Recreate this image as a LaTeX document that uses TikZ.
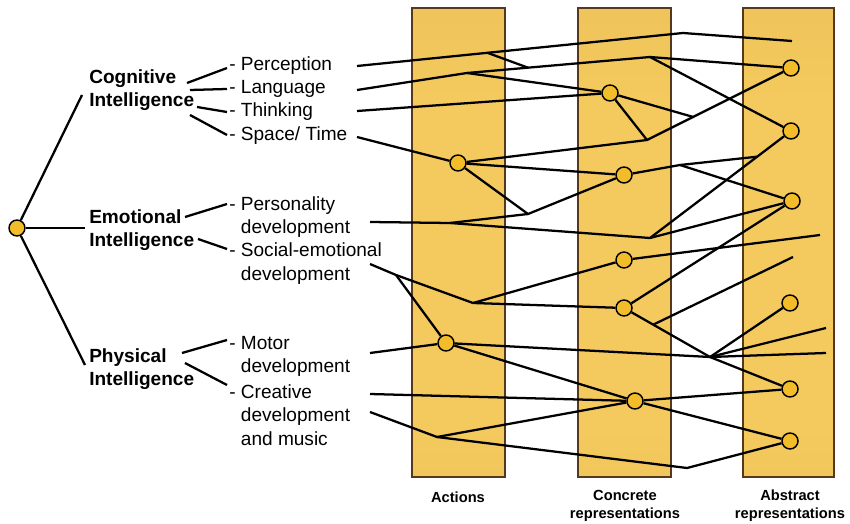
\documentclass[tikz,border=0pt]{standalone}
\usepackage{fontspec}
\setmainfont{Liberation Sans}
\usetikzlibrary{calc}
\definecolor{colgold}{HTML}{F4CA5E}
\definecolor{coldark}{HTML}{C9A146}
\definecolor{colbot}{HTML}{E2B44E}
\definecolor{dotfill}{HTML}{F3BD2A}
\pgfdeclareverticalshading{colshade}{100bp}{color(0bp)=(colbot); color(30bp)=(colgold); color(65bp)=(colgold); color(88bp)=(colgold!70!coldark); color(100bp)=(coldark)}
\tikzset{mcol/.style={draw=black!55!brown,line width=0.8pt,shading=colshade}}
\tikzset{mdot/.style={draw,circle,fill=dotfill,line width=1.1pt,minimum size=12pt,inner sep=0pt}}
\tikzset{mlink/.style={line width=1.7pt}}
\tikzset{mhead/.style={anchor=west,align=left,inner sep=0pt,font=\bfseries\fontsize{14.3}{17.3}\selectfont}}
\tikzset{mitem/.style={anchor=west,align=left,inner sep=0pt,font=\fontsize{14.3}{17.5}\selectfont}}
\tikzset{mcap/.style={align=center,inner sep=0pt,font=\bfseries\fontsize{11}{13.5}\selectfont}}

\begin{document}
\begin{tikzpicture}[x=0.75pt,y=-0.75pt]
\useasboundingbox (0,0) rectangle (850,524);

% columns
\path[mcol] (412,8) rectangle (505,477);
\path[mcol] (578,8) rectangle (671,477);
\path[mcol] (743,8) rectangle (834,477);
\node[mcap] (lact) at (458,497) {Actions};
\node[mcap] (lcon) at (625,506) {Concrete\\representations};
\node[mcap] (labs) at (790,506) {Abstract\\representations};

% left tree
\node[mdot] (root) at (17,228) {};
\node[mhead] (cog) at (89,90) {Cognitive\\Intelligence};
\node[mhead] (emo) at (89,230) {Emotional\\Intelligence};
\node[mhead] (phy) at (89,369) {Physical\\Intelligence};

\node[mitem] (perc) at (229,66) {- Perception};
\node[mitem] (lang) at (229,89) {- Language};
\node[mitem] (think) at (229,112) {- Thinking};
\node[mitem] (space) at (229,136) {- Space/ Time};
\node[mitem] (pers) at (229,217) {- Personality\\\phantom{- }development};
\node[mitem] (soc) at (229,263.5) {- Social-emotional\\\phantom{- }development};
\node[mitem] (motor) at (229,356.5) {- Motor\\\phantom{- }development};
\node[mitem] (creat) at (229,415) {- Creative\\\phantom{- }development\\\phantom{- }and music};

\coordinate (tc) at (82,95);
\coordinate (te) at (85,228);
\coordinate (tp) at (85,365);
\draw[mlink] (root) -- (tc);
\draw[mlink] (root) -- (te);
\draw[mlink] (root) -- (tp);

\coordinate (c1) at (187,83);  \coordinate (p1) at (227,68);
\coordinate (c2) at (190,90);  \coordinate (p2) at (227,89);
\coordinate (c3) at (197,107); \coordinate (p3) at (227,112);
\coordinate (c4) at (190,115); \coordinate (p4) at (227,135);
\coordinate (c5) at (185,217); \coordinate (p5) at (227,204);
\coordinate (c6) at (198,239); \coordinate (p6) at (227,249);
\coordinate (c7) at (182,353); \coordinate (p7) at (227,340);
\coordinate (c8) at (185,363); \coordinate (p8) at (227,385);
\foreach \i in {1,...,8}
  \draw[mlink] (c\i) -- (p\i);

% column nodes
\node[mdot] (act1) at (458,163) {};
\node[mdot] (act2) at (446,343) {};
\node[mdot] (con1) at (610,93) {};
\node[mdot] (con2) at (624,175) {};
\node[mdot] (con3) at (624,260) {};
\node[mdot] (con4) at (624,308) {};
\node[mdot] (con5) at (635,401) {};
\node[mdot] (abs1) at (791,68) {};
\node[mdot] (abs2) at (791,131) {};
\node[mdot] (abs3) at (792,201) {};
\node[mdot] (abs4) at (790,303) {};
\node[mdot] (abs5) at (790,389) {};
\node[mdot] (abs6) at (790,441) {};

% starts and junctions
\coordinate (s1) at (357,66);
\coordinate (s2) at (357,90);
\coordinate (s3) at (357,111);
\coordinate (s4) at (357,137);
\coordinate (s5) at (370,222);
\coordinate (s6) at (370,264);
\coordinate (s7) at (370,353);
\coordinate (s8) at (370,394);
\coordinate (s9) at (370,412);

\coordinate (t1) at (683,33);
\coordinate (e1) at (792,41);
\coordinate (j1) at ($(s1)!0.40!(t1)$);
\coordinate (j2) at (467,73);
\coordinate (j4) at (650,57);
\coordinate (j3) at ($(j2)!0.333!(j4)$);
\coordinate (j6) at (647,140);
\coordinate (j5) at ($(j6)!0.32!(abs1)$);
\coordinate (j7) at (528,214);
\coordinate (j8) at (450,223);
\coordinate (j9) at (650,238);
\coordinate (j10) at (680,165);
\coordinate (j11) at ($(j9)!0.76!(abs2)$);
\coordinate (e5) at (820,235);
\coordinate (hub) at (710,357);
\coordinate (j13) at ($(con4)!0.34!(hub)$);
\coordinate (e6) at (793,257);
\coordinate (e3) at (826,328);
\coordinate (e4) at (826,353);
\coordinate (j14) at (396,275);
\coordinate (j15) at (473,303);
\coordinate (j16) at (437,437);
\coordinate (j17) at (687,468);

% network
\draw[mlink] (s1) -- (t1) -- (e1);
\draw[mlink] (j1) -- (j3);
\draw[mlink] (s2) -- (j2) -- (j4);
\draw[mlink] (j2) -- (con1);
\draw[mlink] (j4) -- (abs1);
\draw[mlink] (j4) -- (abs2);
\draw[mlink] (s3) -- (con1);
\draw[mlink] (con1) -- (j5);
\draw[mlink] (con1) -- (j6);
\draw[mlink] (act1) -- (j6) -- (abs1);
\draw[mlink] (s4) -- (act1);
\draw[mlink] (act1) -- (con2);
\draw[mlink] (act1) -- (j7) -- (con2);
\draw[mlink] (s5) -- (j8) -- (j7);
\draw[mlink] (j8) -- (j9);
\draw[mlink] (j9) -- (abs2);
\draw[mlink] (j9) -- (abs3);
\draw[mlink] (con2) -- (j10) -- (abs3);
\draw[mlink] (j10) -- (j11);
\draw[mlink] (con3) -- (e5);
\draw[mlink] (s6) -- (j14) -- (j15);
\draw[mlink] (j14) -- (act2);
\draw[mlink] (j15) -- (con3);
\draw[mlink] (j15) -- (con4);
\draw[mlink] (con4) -- (abs3);
\draw[mlink] (con4) -- (hub);
\draw[mlink] (j13) -- (e6);
\draw[mlink] (act2) -- (hub);
\draw[mlink] (hub) -- (abs4);
\draw[mlink] (hub) -- (e3);
\draw[mlink] (hub) -- (e4);
\draw[mlink] (hub) -- (abs5);
\draw[mlink] (s7) -- (act2);
\draw[mlink] (act2) -- (con5);
\draw[mlink] (s8) -- (con5);
\draw[mlink] (con5) -- (abs5);
\draw[mlink] (con5) -- (abs6);
\draw[mlink] (s9) -- (j16) -- (con5);
\draw[mlink] (j16) -- (j17) -- (abs6);

\end{tikzpicture}
\end{document}
